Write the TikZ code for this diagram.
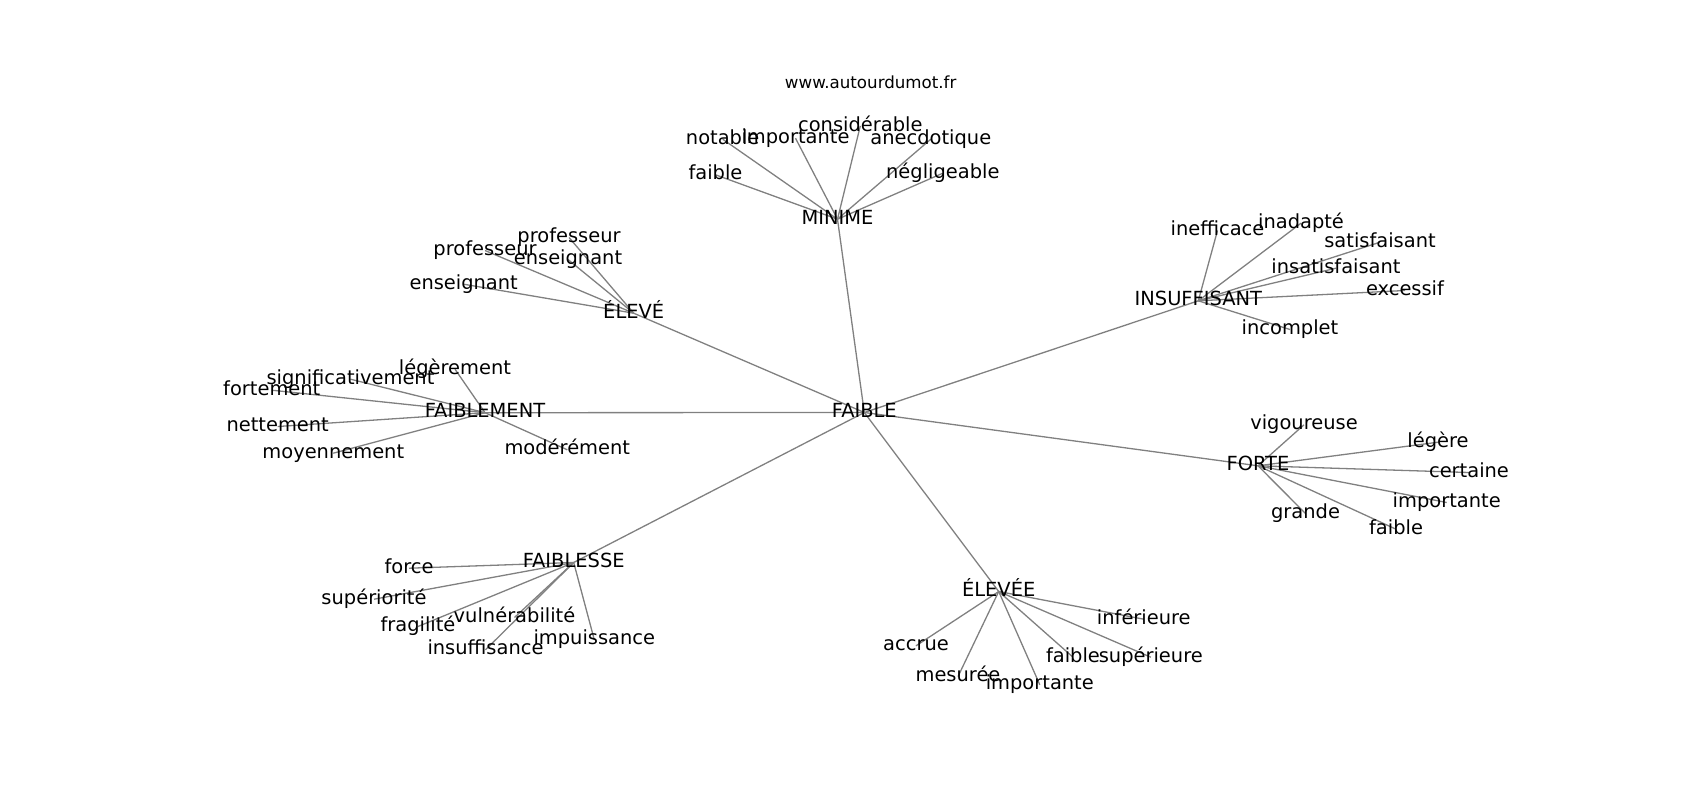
\documentclass[tikz,border=0pt]{standalone}
\usepackage{fontspec}
\setmainfont{DejaVu Sans}
\definecolor{edgegray}{HTML}{808080}
\tikzset{
  lbl/.style={font=\fontsize{19.44bp}{23bp}\selectfont, inner sep=0pt, text height=14.8bp, text depth=4.6bp, anchor=center, text=black},
  wwwlbl/.style={font=\fontsize{16.67bp}{20bp}\selectfont, inner sep=0pt, text height=12.7bp, text depth=3.9bp, anchor=center, text=black},
  lnk/.style={draw=edgegray, line width=1.3bp}
}
\begin{document}
\begin{tikzpicture}[x=1bp,y=-1bp]
\useasboundingbox (0,-1.5) rectangle (1700,798.5);
% node positions
\coordinate (pFAIBLE) at (864.3,411);
\coordinate (pMINIME) at (837.5,217.7);
\coordinate (pm1) at (722.7,137.7);
\coordinate (pm2) at (795.5,136.7);
\coordinate (pm3) at (860.3,124.4);
\coordinate (pm4) at (930.8,137.7);
\coordinate (pm5) at (715.5,173.3);
\coordinate (pm6) at (942.8,171.7);
\coordinate (pELEVE) at (633.7,311.7);
\coordinate (pe1) at (569,236);
\coordinate (pe2) at (568,258);
\coordinate (pe3) at (485,249);
\coordinate (pe4) at (463.7,282.7);
\coordinate (pFM) at (485,411.2);
\coordinate (pf1) at (455,367.7);
\coordinate (pf2) at (350.5,377.7);
\coordinate (pf3) at (271.8,388.7);
\coordinate (pf4) at (277.7,425);
\coordinate (pf5) at (333.3,451.7);
\coordinate (pf6) at (567.3,448.3);
\coordinate (pINS) at (1198.3,299.3);
\coordinate (pi1) at (1217.5,229);
\coordinate (pi2) at (1301,221.7);
\coordinate (pi3) at (1380,240.7);
\coordinate (pi4) at (1336,266.7);
\coordinate (pi5) at (1405,289);
\coordinate (pi6) at (1290,328);
\coordinate (pFORTE) at (1258,464.3);
\coordinate (po1) at (1304,423.3);
\coordinate (po2) at (1438,440.7);
\coordinate (po3) at (1469,471);
\coordinate (po4) at (1446.7,501);
\coordinate (po5) at (1305.5,512);
\coordinate (po6) at (1396,527.7);
\coordinate (pFS) at (573.7,561);
\coordinate (ps1) at (409,566.7);
\coordinate (ps2) at (374,597.7);
\coordinate (ps3) at (418,625);
\coordinate (ps4) at (514.5,616);
\coordinate (ps5) at (485.5,648.3);
\coordinate (ps6) at (594.3,638.3);
\coordinate (pELEVEE) at (998.7,590);
\coordinate (pv1) at (1143.8,617.7);
\coordinate (pv2) at (916,644.3);
\coordinate (pv3) at (1073,655.7);
\coordinate (pv4) at (1150.8,655.7);
\coordinate (pv5) at (958,675);
\coordinate (pv6) at (1039.8,683.3);
% edges
\foreach \a/\b in {pFAIBLE/pMINIME,pFAIBLE/pELEVE,pFAIBLE/pFM,pFAIBLE/pINS,pFAIBLE/pFORTE,pFAIBLE/pFS,pFAIBLE/pELEVEE,
  pMINIME/pm1,pMINIME/pm2,pMINIME/pm3,pMINIME/pm4,pMINIME/pm5,pMINIME/pm6,
  pELEVE/pe1,pELEVE/pe2,pELEVE/pe3,pELEVE/pe4,
  pFM/pf1,pFM/pf2,pFM/pf3,pFM/pf4,pFM/pf5,pFM/pf6,
  pINS/pi1,pINS/pi2,pINS/pi3,pINS/pi4,pINS/pi5,pINS/pi6,
  pFORTE/po1,pFORTE/po2,pFORTE/po3,pFORTE/po4,pFORTE/po5,pFORTE/po6,
  pFS/ps1,pFS/ps2,pFS/ps3,pFS/ps4,pFS/ps5,pFS/ps6,
  pELEVEE/pv1,pELEVEE/pv2,pELEVEE/pv3,pELEVEE/pv4,pELEVEE/pv5,pELEVEE/pv6}
  {\draw[lnk] (\a) -- (\b);}
% labels
\node[wwwlbl] (www) at (870.7,83) {www.autourdumot.fr};
\node[lbl] (FAIBLE) at (pFAIBLE) {FAIBLE};
\node[lbl] (MINIME) at (pMINIME) {MINIME};
\node[lbl] (m1) at (pm1) {notable};
\node[lbl] (m2) at (pm2) {importante};
\node[lbl] (m3) at (pm3) {considérable};
\node[lbl] (m4) at (pm4) {anecdotique};
\node[lbl] (m5) at (pm5) {faible};
\node[lbl] (m6) at (pm6) {négligeable};
\node[lbl] (ELEVE) at (pELEVE) {ÉLEVÉ};
\node[lbl] (e1) at (pe1) {professeur};
\node[lbl] (e2) at (pe2) {enseignant};
\node[lbl] (e3) at (pe3) {professeur};
\node[lbl] (e4) at (pe4) {enseignant};
\node[lbl] (FM) at (pFM) {FAIBLEMENT};
\node[lbl] (f1) at (pf1) {légèrement};
\node[lbl] (f2) at (pf2) {significativement};
\node[lbl] (f3) at (pf3) {fortement};
\node[lbl] (f4) at (pf4) {nettement};
\node[lbl] (f5) at (pf5) {moyennement};
\node[lbl] (f6) at (pf6) {modérément};
\node[lbl] (INS) at (pINS) {INSUFFISANT};
\node[lbl] (i1) at (pi1) {inefficace};
\node[lbl] (i2) at (pi2) {inadapté};
\node[lbl] (i3) at (pi3) {satisfaisant};
\node[lbl] (i4) at (pi4) {insatisfaisant};
\node[lbl] (i5) at (pi5) {excessif};
\node[lbl] (i6) at (pi6) {incomplet};
\node[lbl] (FORTE) at (pFORTE) {FORTE};
\node[lbl] (o1) at (po1) {vigoureuse};
\node[lbl] (o2) at (po2) {légère};
\node[lbl] (o3) at (po3) {certaine};
\node[lbl] (o4) at (po4) {importante};
\node[lbl] (o5) at (po5) {grande};
\node[lbl] (o6) at (po6) {faible};
\node[lbl] (FS) at (pFS) {FAIBLESSE};
\node[lbl] (s1) at (ps1) {force};
\node[lbl] (s2) at (ps2) {supériorité};
\node[lbl] (s3) at (ps3) {fragilité};
\node[lbl] (s4) at (ps4) {vulnérabilité};
\node[lbl] (s5) at (ps5) {insuffisance};
\node[lbl] (s6) at (ps6) {impuissance};
\node[lbl] (ELEVEE) at (pELEVEE) {ÉLEVÉE};
\node[lbl] (v1) at (pv1) {inférieure};
\node[lbl] (v2) at (pv2) {accrue};
\node[lbl] (v3) at (pv3) {faible};
\node[lbl] (v4) at (pv4) {supérieure};
\node[lbl] (v5) at (pv5) {mesurée};
\node[lbl] (v6) at (pv6) {importante};
\end{tikzpicture}
\end{document}
